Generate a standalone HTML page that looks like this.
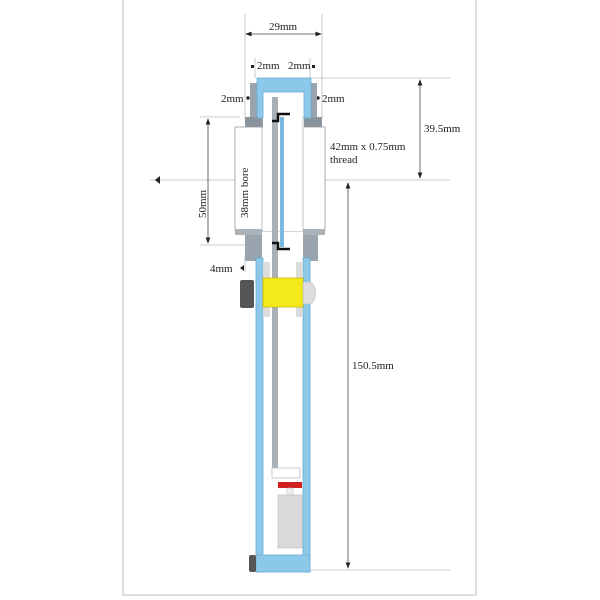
<!DOCTYPE html>
<html><head><style>
body{margin:0;background:#fff;}
svg{display:block;font-family:"Liberation Serif",serif;}
</style></head><body>
<svg width="600" height="600" viewBox="0 0 600 600" xmlns="http://www.w3.org/2000/svg">
<defs>
<marker id="a" markerWidth="8" markerHeight="8" refX="7" refY="4" orient="auto"><path d="M0,1 L8,4 L0,7 z" fill="#222"/></marker>
<marker id="b" markerWidth="8" markerHeight="8" refX="1" refY="4" orient="auto"><path d="M8,1 L0,4 L8,7 z" fill="#222"/></marker>
</defs>
<rect x="123" y="-2" width="353" height="597" fill="#fff" stroke="#c8c8c8" stroke-width="1.2"/>
<g stroke="#bbb" stroke-width="0.8">
<line x1="245" y1="14" x2="245" y2="118"/><line x1="322" y1="14" x2="322" y2="118"/>
<line x1="255" y1="58" x2="255" y2="78"/><line x1="310" y1="58" x2="310" y2="78"/>
<line x1="312" y1="78" x2="450" y2="78"/>
<line x1="150" y1="180" x2="450" y2="180"/>
<line x1="310" y1="570" x2="450" y2="570"/>
<line x1="200" y1="117" x2="240" y2="117"/>
<line x1="200" y1="245" x2="245" y2="245"/>
<line x1="245" y1="255" x2="245" y2="272"/>
</g>
<g stroke="#444" stroke-width="0.8" fill="none">
<line x1="246" y1="34" x2="321" y2="34" marker-start="url(#b)" marker-end="url(#a)"/>
<line x1="420" y1="80" x2="420" y2="178" marker-start="url(#b)" marker-end="url(#a)"/>
<line x1="348" y1="183" x2="348" y2="568" marker-start="url(#b)" marker-end="url(#a)"/>
<line x1="208" y1="119" x2="208" y2="243" marker-start="url(#b)" marker-end="url(#a)"/>
</g>
<path d="M155,180 L160,176 L160,184 z" fill="#222"/>
<g fill="#222"><rect x="251" y="65" width="3" height="3"/><rect x="312" y="65" width="3" height="3"/>
<circle cx="248" cy="98" r="1.7"/><circle cx="318" cy="98" r="1.7"/>
<path d="M240,268 l4,-3 v6z"/></g>
<rect x="250" y="83" width="67" height="37" fill="#9aa4ae"/>
<rect x="245" y="117" width="77" height="12" fill="#8a949e"/>
<rect x="235" y="127" width="90" height="104" fill="#fff" stroke="#999" stroke-width="0.8"/>
<rect x="263" y="90" width="41" height="141" fill="#fff"/>
<line x1="262" y1="117" x2="262" y2="231" stroke="#aaa" stroke-width="0.7"/>
<line x1="303" y1="117" x2="303" y2="231" stroke="#aaa" stroke-width="0.7"/>
<rect x="245" y="231" width="17" height="30" fill="#9aa4ae"/>
<rect x="303" y="231" width="15" height="30" fill="#9aa4ae"/>
<rect x="235" y="229" width="27" height="6" fill="#aab2ba"/>
<rect x="303" y="229" width="22" height="6" fill="#aab2ba"/>
<path d="M257,78 H311 V118 H304 V92 H263 V118 H257 Z" fill="#8cc8ea" stroke="#6aaad0" stroke-width="0.8"/>
<rect x="256" y="258" width="7" height="314" fill="#8cc8ea" stroke="#6aaad0" stroke-width="0.8"/>
<rect x="303" y="258" width="7" height="314" fill="#8cc8ea" stroke="#6aaad0" stroke-width="0.8"/>
<rect x="256" y="555" width="54" height="17" fill="#8cc8ea" stroke="#6aaad0" stroke-width="0.8"/>
<rect x="263" y="262" width="40" height="55" fill="#dcdcdc"/>
<rect x="270" y="262" width="26" height="55" fill="#fff"/>
<rect x="272" y="97" width="6" height="380" fill="#a8b0b8"/>
<rect x="280" y="117" width="4" height="130" fill="#7ab8e0"/>
<rect x="263" y="278" width="40" height="29" fill="#f4ea1a" stroke="#c8b800" stroke-width="0.8"/>
<path d="M303,282 h6 a6,10 0 0 1 0,22 h-6z" fill="#ddd" stroke="#bbb" stroke-width="0.6"/>
<rect x="240" y="280" width="14" height="28" rx="2" fill="#555"/>
<path d="M272,121 H278 V114 H290" stroke="#111" stroke-width="2.5" fill="none"/>
<path d="M272,243 H278 V249 H290" stroke="#111" stroke-width="2.5" fill="none"/>
<rect x="272" y="468" width="28" height="10" fill="#fff" stroke="#bbb" stroke-width="0.8"/>
<rect x="278" y="482" width="24" height="6" fill="#d02020"/>
<rect x="287" y="488" width="6" height="7" fill="#eee" stroke="#bbb" stroke-width="0.5"/>
<rect x="278" y="495" width="24" height="53" fill="#dadada" stroke="#bbb" stroke-width="0.6"/>
<rect x="249" y="555" width="7" height="17" rx="2" fill="#555"/>
<g font-size="11" fill="#222">
<text x="269" y="30">29mm</text>
<text x="257" y="69">2mm</text><text x="288" y="69">2mm</text>
<text x="221" y="102">2mm</text><text x="322" y="102">2mm</text>
<text x="330" y="150">42mm x 0.75mm</text><text x="330" y="163">thread</text>
<text x="424" y="132">39.5mm</text>
<text x="352" y="369">150.5mm</text>
<text x="210" y="272">4mm</text>
<text transform="translate(248,218) rotate(-90)">38mm bore</text>
<text transform="translate(206,218) rotate(-90)">50mm</text>
</g>
</svg>
</body></html>
